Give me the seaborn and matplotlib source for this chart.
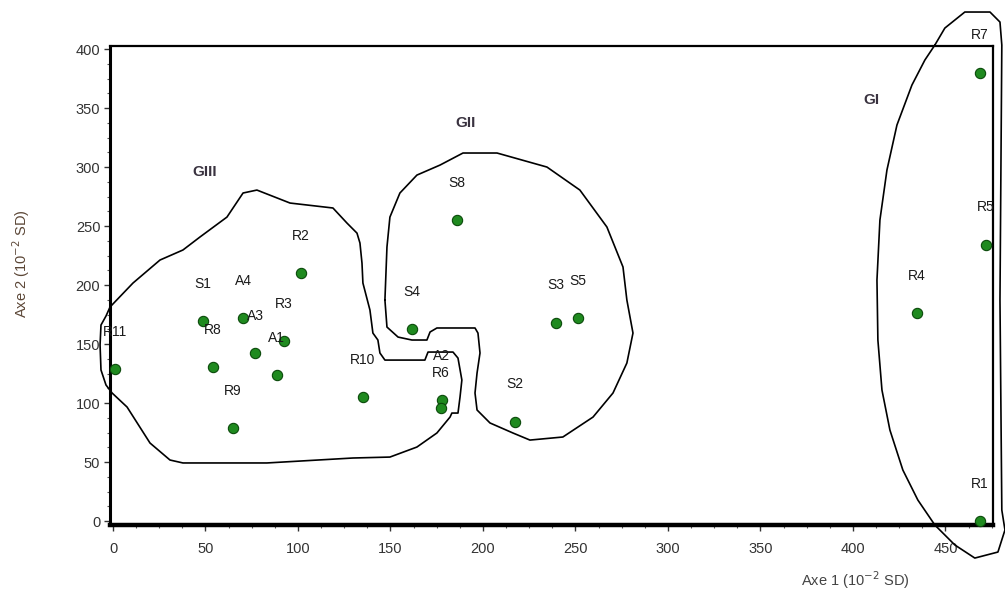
import numpy as np
import pandas as pd
import matplotlib
matplotlib.use("Agg")
import matplotlib.pyplot as plt
import seaborn as sns

# ---- data ----
names = ["R11", "S1", "A4", "A3", "R3", "A1", "R8", "R9", "R2", "R10", "A2", "R6",
         "S8", "S4", "S3", "S5", "S2",
         "R7", "R5", "R4", "R1"]
axe1 = [1, 48.6, 70.3, 76.8, 92.4, 88.6, 54, 64.9, 101.6, 135, 177.8, 177.3,
        186, 161.6, 239.5, 251.4, 217.3,
        468.6, 471.9, 434.6, 468.6]
axe2 = [128.8, 169.5, 172, 142, 152.5, 123.7, 130.5, 78.8, 210, 105, 102.5, 95.8,
        255, 162.7, 168, 172, 84,
        380, 234, 176, 0]
label_dy = [27, 27, 27, 27, 27, 27, 27, 27, 27, 27, 32, 25,
            27, 27, 27, 27, 27,
            27, 27, 27, 27]

group_names = ["GI", "GII", "GIII"]
group_x = [410, 190.8, 49.7]
group_y = [357, 337, 295.8]

# outlines (data coordinates)
g3_x = [-1.6, 10.8, 25.4, 37.8, 47, 61.6, 70.3, 77.8, 95.7, 118.9, 126.5, 131.9, 133.5,
        134.6, 135.1, 138.9, 140.5, 143.2, 144.3, 147, 168.6, 170.3, 183.8, 186.5, 188.6,
        187.6, 186.5, 183.2, 182.2, 175.1, 164.3, 149.7, 129.7, 83.2, 37.8, 30.8, 20,
        7.6, -0.5, -3.8, -6.5, -7, -6.5, -3.8, -1.6]
g3_y = [181.4, 201.7, 221.2, 229.7, 240.7, 257.6, 278, 280.5, 269.5, 265.3, 252.5, 244, 235.6,
        218.6, 201.7, 178.8, 159.3, 153.4, 142.4, 136.4, 136.4, 143.2, 143.2, 138.1, 119.5,
        105.1, 91.5, 91.5, 88.1, 74.6, 62.7, 54.2, 53.4, 49.2, 49.2, 51.7, 66.1,
        96.6, 108.5, 115.3, 128, 149.2, 166.1, 173.7, 181.4]
g2_x = [147, 148.1, 154.1, 161.6, 169.7, 171.4, 175.1, 195.7, 197.3, 198.4, 196.8, 195.7,
        196.8, 203.8, 216.2, 225.4, 243.2, 259.5, 270.3, 277.8, 281.1, 277.8, 275.7, 267,
        252.4, 234.6, 207.6, 189.2, 176.8, 164.3, 155.1, 149.7, 148.1, 147]
g2_y = [187.3, 164.4, 155.9, 153.4, 153.4, 160.2, 163.6, 163.6, 159.3, 142.4, 125.4, 108.5,
        94.1, 83.1, 74.6, 68.6, 71.2, 88.1, 108.5, 133.9, 159.3, 187.3, 215.3, 249.2,
        280.5, 300, 311.9, 311.9, 301.7, 293.2, 278, 257.6, 232.2, 187.3]
g1_x = [444.3, 449.7, 460.5, 474.1, 479.5, 480.5, 479.5, 480.5, 482.2, 478.4, 465.9, 455.1,
        444.3, 435.1, 427, 420, 415.7, 413.5, 413, 414.6, 418.4, 423.8, 431.9, 438.9, 444.3]
g1_y = [403.4, 417.8, 431.4, 431.4, 422.9, 403.4, 187.3, 9.3, -7.6, -26.3, -31.4, -20.3,
        -3.4, 17.8, 43.2, 77.1, 111, 153.4, 204.2, 255.1, 297.5, 335.6, 369.5, 390.7, 403.4]

x_ticks = [0, 50, 100, 150, 200, 250, 300, 350, 400, 450]
y_ticks = [0, 50, 100, 150, 200, 250, 300, 350, 400]

# ---- style ----
sns.set_style("white")
plt.rcParams['font.family'] = ['Liberation Sans', 'DejaVu Sans']

df = pd.DataFrame({"name": names, "x": axe1, "y": axe2})

fig = plt.figure(figsize=(10.05, 5.99), dpi=100)
ax = fig.add_axes([0.1095, 0.1235, 0.8785, 0.7995])

for gx, gy in [(g1_x, g1_y), (g2_x, g2_y), (g3_x, g3_y)]:
    ax.plot(gx, gy, color="black", lw=1.2, clip_on=False, zorder=2)

sns.scatterplot(data=df, x="x", y="y", ax=ax, color="#1f8a1f", edgecolor="#0b4a0b",
                linewidth=0.8, s=55, zorder=5, clip_on=False, legend=False)

for n, x, y, dy in zip(names, axe1, axe2, label_dy):
    ax.annotate(n, (x, y), xytext=(0, dy), textcoords="offset points",
                ha="center", va="center", fontsize=10, color="#1a1a1a",
                annotation_clip=False, zorder=6)

for n, x, y in zip(group_names, group_x, group_y):
    ax.text(x, y, n, ha="center", va="center", fontsize=11, fontweight="bold",
            color="#3a3340")

ax.set_xlim(-1.6, 475.7)
ax.set_ylim(-3.4, 402.5)
ax.set_xticks(x_ticks)
ax.set_yticks(y_ticks)
ax.set_xticks(np.arange(0, 476, 12.5), minor=True)
ax.set_yticks(np.arange(0, 402, 12.5), minor=True)
ax.tick_params(axis="both", which="major", direction="out", length=4, width=1,
               labelsize=10.5, labelcolor="#333333", color="#333333")
ax.tick_params(axis="both", which="minor", direction="out", length=2.5, width=0.8,
               color="#555555")
ax.tick_params(axis="x", which="major", pad=8)
ax.tick_params(axis="y", which="major", pad=3)
ax.tick_params(left=True, bottom=True, which="both")

for side, lw in [("left", 2.2), ("bottom", 3.2), ("top", 1.6), ("right", 1.6)]:
    ax.spines[side].set_visible(True)
    ax.spines[side].set_linewidth(lw)
    ax.spines[side].set_color("black")

ax.set_xlabel("")
ax.set_ylabel("")
fig.text(0.021, 0.56, "Axe 2 (10$^{-2}$ SD)", rotation=90, ha="center", va="center",
         fontsize=10.5, color="#5b4636")
fig.text(0.851, 0.032, "Axe 1 (10$^{-2}$ SD)", ha="center", va="center",
         fontsize=10.5, color="#444444")

fig.savefig("out.png", dpi=100)
